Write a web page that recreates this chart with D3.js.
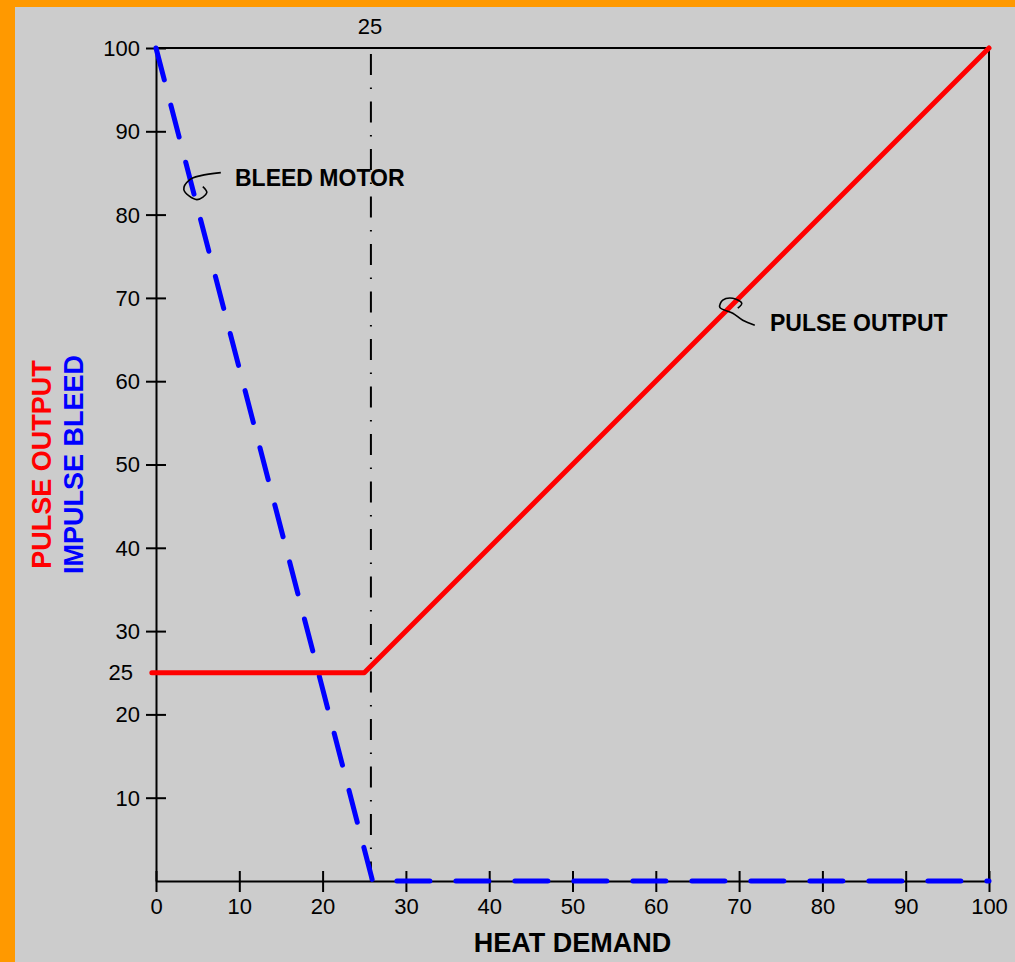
<!DOCTYPE html>
<meta charset="utf-8">
<script src="https://d3js.org/d3.v7.min.js"></script>
<style>
  body { margin: 0; background: #ff9900; }
  svg { display: block; }
  text { font-family: "Liberation Sans", Arial, sans-serif; }
</style>
<svg id="chart" width="1015" height="962"></svg>
<script>
// data
var xTicks = [0, 10, 20, 30, 40, 50, 60, 70, 80, 90, 100];
var yTicks = [10, 20, 30, 40, 50, 60, 70, 80, 90, 100];
var pulseOutput = [[-0.5, 25], [25, 25], [100, 100]];
var impulseBleed = [[0, 100], [26, 0], [100, 0]];
var markerX = 25.8, markerLabel = "25";
var extraYLabel = 25;

var svg = d3.select("#chart");
var W = 1015, H = 962;

// grey panel inside the orange border
svg.append("rect").attr("x", 15).attr("y", 7).attr("width", W - 15).attr("height", H - 7)
  .attr("fill", "#cccccc");

var x = d3.scaleLinear().domain([0, 100]).range([156, 989]);
var y = d3.scaleLinear().domain([0, 100]).range([881, 48]);

// frame top + right
svg.append("path")
  .attr("d", "M" + x(0) + "," + y(100) + "H" + x(100) + "V" + y(0))
  .attr("fill", "none").attr("stroke", "#000").attr("stroke-width", 2);

// x axis
var gx = svg.append("g").attr("transform", "translate(0," + y(0) + ")")
  .call(d3.axisBottom(x).tickValues(xTicks).tickSize(10).tickSizeOuter(0));
gx.select(".domain").attr("stroke-width", 2);
gx.selectAll(".tick line").attr("y1", -10).attr("y2", 11).attr("stroke-width", 2);
gx.selectAll(".tick text").attr("y", 33).attr("dy", null)
  .style("font-size", "22px").attr("fill", "#000");

// y axis
var gy = svg.append("g").attr("transform", "translate(" + x(0) + ",0)")
  .call(d3.axisLeft(y).tickValues(yTicks).tickSize(10).tickSizeOuter(0));
gy.select(".domain").attr("stroke-width", 2);
gy.selectAll(".tick line").attr("x1", -10).attr("x2", 10).attr("stroke-width", 2);
gy.selectAll(".tick text").attr("x", -16).attr("dy", "0.34em")
  .style("font-size", "22px").attr("fill", "#000");
svg.selectAll(".domain").attr("stroke", "#000");

svg.append("text").attr("x", x(0) - 23).attr("y", y(extraYLabel)).attr("dy", "0.34em")
  .attr("text-anchor", "end").style("font-size", "22px").text(extraYLabel);

// vertical dash-dot marker
svg.append("line")
  .attr("x1", x(markerX)).attr("x2", x(markerX))
  .attr("y1", y(100) + 6).attr("y2", y(0))
  .attr("stroke", "#000").attr("stroke-width", 2)
  .attr("stroke-dasharray", "21,12.5,1.5,12.5");
svg.append("text").attr("x", x(markerX) - 1).attr("y", 34)
  .attr("text-anchor", "middle").style("font-size", "22px").text(markerLabel);

var line = d3.line().x(function(d){ return x(d[0]); }).y(function(d){ return y(d[1]); });

// impulse bleed (blue dashed)
svg.append("path").datum(impulseBleed).attr("d", line)
  .attr("fill", "none").attr("stroke", "#0000ff").attr("stroke-width", 5)
  .attr("stroke-linecap", "round").attr("stroke-linejoin", "round")
  .attr("stroke-dasharray", "33,26");

// pulse output (red)
svg.append("path").datum(pulseOutput).attr("d", line)
  .attr("fill", "none").attr("stroke", "#ff0000").attr("stroke-width", 5)
  .attr("stroke-linecap", "round").attr("stroke-linejoin", "round");

// curly leaders
var curl = d3.line().curve(d3.curveCatmullRom);
function leader(ax, ay, pts) {
  svg.append("path")
    .attr("d", curl(pts.map(function(p){ return [ax + p[0], ay + p[1]]; })))
    .attr("fill", "none").attr("stroke", "#000").attr("stroke-width", 1.6);
}
// bleed motor: point on blue line at y=83
var by = 83, bx = 26 * (1 - by / 100);
leader(x(bx), y(by), [[28, -17], [8, -14], [-3, -10], [-9, 0], [4, 10], [14, 3], [10, -3]]);
svg.append("text").attr("x", 235).attr("y", 186)
  .style("font-size", "23px").style("font-weight", "bold").text("BLEED MOTOR");

// pulse output: point on red line at 69
leader(x(69), y(69), [[24, 19], [12, 14], [2, 7], [-11, 1], [-8, -6], [2, -8], [11, -3], [7, 2]]);
svg.append("text").attr("x", 770).attr("y", 331)
  .style("font-size", "23px").style("font-weight", "bold").text("PULSE OUTPUT");

// axis titles
svg.append("text").attr("x", (x(0) + x(100)) / 2).attr("y", 952)
  .attr("text-anchor", "middle").style("font-size", "27px").style("font-weight", "bold")
  .text("HEAT DEMAND");

var cy = (y(0) + y(100)) / 2;
svg.append("text").attr("transform", "translate(51," + cy + ") rotate(-90)")
  .attr("text-anchor", "middle").style("font-size", "27px").style("font-weight", "bold")
  .attr("fill", "#ff0000").text("PULSE OUTPUT");
svg.append("text").attr("transform", "translate(83," + cy + ") rotate(-90)")
  .attr("text-anchor", "middle").style("font-size", "27px").style("font-weight", "bold")
  .attr("fill", "#0000ff").text("IMPULSE BLEED");
</script>
